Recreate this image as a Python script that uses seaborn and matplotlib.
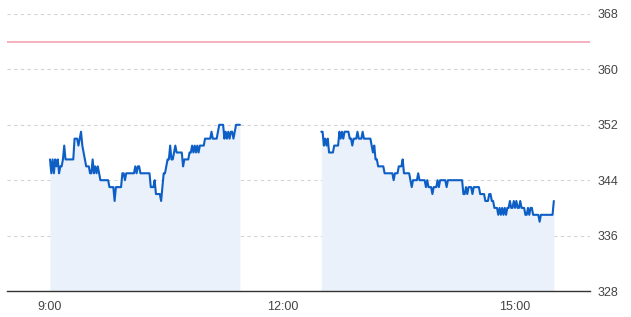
import numpy as np
import pandas as pd
import matplotlib
matplotlib.use("Agg")
import matplotlib.pyplot as plt
import seaborn as sns

# ---- data (prices, 1-minute steps) ----
# morning session starts 9:00 (minute 0)
am_prices = [347, 345, 347, 345, 347, 346, 347, 345, 346, 346,
             347, 349, 347, 347, 347, 347, 347, 347, 347, 350,
             350, 350, 349, 350, 351, 349, 348, 347, 346, 346,
             346, 345, 345, 347, 345, 346, 345, 346, 345, 344,
             344, 344, 344, 344, 344, 344, 343, 343, 343, 343,
             341, 343, 343, 343, 343, 343, 345, 345, 344, 345,
             345, 345, 345, 345, 345, 345, 346, 345, 346, 346,
             345, 345, 345, 345, 345, 345, 345, 345, 343, 343,
             343, 344, 342, 342, 342, 342, 341, 343, 345, 345,
             346, 347, 347, 349, 347, 347, 348, 349, 348, 348,
             348, 348, 348, 346, 347, 347, 347, 347, 348, 348,
             349, 348, 349, 348, 349, 348, 349, 349, 349, 349,
             350, 350, 350, 350, 350, 351, 350, 350, 350, 350,
             351, 352, 352, 352, 352, 350, 351, 350, 351, 350,
             351, 351, 350, 351, 352, 352, 352, 352]
# afternoon session starts 12:30 (minute 210)
pm_prices = [351, 351, 349, 350, 349, 350, 348, 348, 348, 348,
             349, 349, 349, 349, 351, 350, 351, 350, 351, 351,
             351, 351, 350, 350, 349, 350, 350, 350, 351, 350,
             350, 350, 351, 350, 350, 350, 350, 350, 350, 349,
             348, 349, 347, 347, 346, 346, 346, 346, 346, 345,
             345, 345, 345, 345, 345, 345, 344, 345, 345, 345,
             346, 346, 346, 347, 345, 345, 345, 345, 345, 344,
             343, 344, 344, 344, 344, 345, 344, 344, 344, 344,
             344, 343, 344, 343, 343, 343, 342, 343, 343, 343,
             344, 343, 344, 344, 344, 344, 344, 343, 344, 344,
             344, 344, 344, 344, 344, 344, 344, 344, 344, 344,
             342, 342, 343, 342, 343, 343, 343, 342, 343, 343,
             343, 343, 343, 342, 342, 342, 342, 341, 341, 341,
             342, 342, 341, 341, 340, 340, 340, 339, 340, 339,
             340, 339, 340, 339, 340, 340, 341, 340, 340, 341,
             340, 341, 340, 340, 341, 340, 340, 340, 339, 339,
             340, 339, 340, 340, 339, 339, 339, 339, 339, 338,
             339, 339, 339, 339, 339, 339, 339, 339, 339, 339,
             341]
am_start = 0      # minutes after 9:00
pm_start = 210
ref_price = 364
y_ticks = [328, 336, 344, 352, 360, 368]
x_ticks = [0, 180, 360]
x_tick_labels = ["9:00", "12:00", "15:00"]

am = pd.DataFrame({"t": np.arange(len(am_prices)) + am_start, "price": am_prices})
pm = pd.DataFrame({"t": np.arange(len(pm_prices)) + pm_start, "price": pm_prices})

line_color = "#0d5fc6"
fill_color = "#eaf1fa"

sns.set_theme(style="white")
plt.rcParams["font.family"] = ["Liberation Sans", "DejaVu Sans"]

fig = plt.figure(figsize=(6.31, 3.17), dpi=100)
ax = fig.add_axes([7 / 631, 26 / 317, 583 / 631, 277 / 317])

ymin, ymax = y_ticks[0], y_ticks[-1]
for df in (am, pm):
    ax.fill_between(df["t"], df["price"], ymin, color=fill_color, linewidth=0, zorder=1)
    sns.lineplot(data=df, x="t", y="price", ax=ax, color=line_color,
                 linewidth=1.5, zorder=3, legend=False)

ax.axhline(ref_price, color="#f5aab9", linewidth=1.3, zorder=2)

ax.set_xlim(-33.3, 418)
ax.set_ylim(ymin, ymax)
ax.set_xticks(x_ticks)
ax.set_xticklabels(x_tick_labels)
ax.set_yticks(y_ticks)
ax.yaxis.tick_right()
ax.set_xlabel("")
ax.set_ylabel("")

ax.grid(axis="y", color="#d3d3d3", linestyle=(0, (3, 3)), linewidth=0.8, zorder=0)
ax.grid(axis="x", visible=False)

for s in ("top", "left", "right"):
    ax.spines[s].set_visible(False)
ax.spines["bottom"].set_color("#333333")
ax.spines["bottom"].set_linewidth(1.0)
ax.spines["bottom"].set_zorder(4)

ax.tick_params(axis="both", length=0, labelsize=9, labelcolor="#444444")
ax.tick_params(axis="x", pad=7)
ax.tick_params(axis="y", pad=5.5)

fig.savefig("out.png", dpi=100, facecolor="white")
